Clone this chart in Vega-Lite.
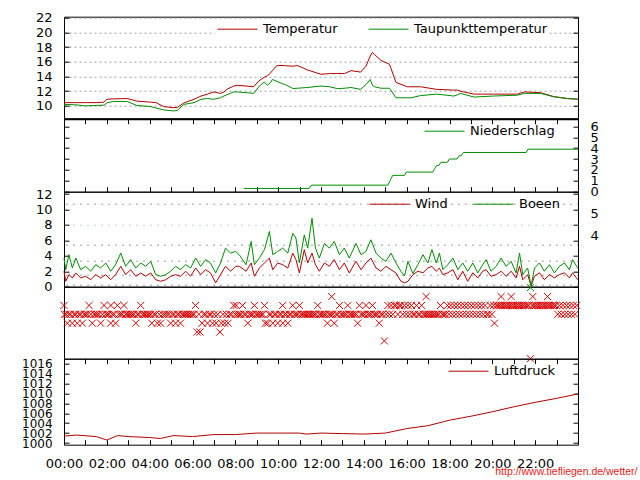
{
  "$schema": "https://vega.github.io/schema/vega-lite/v6.json",
  "background": "white",
  "padding": {"left": 0, "top": 10.7, "right": 0, "bottom": 0},
  "autosize": {"type": "pad"},
  "config": {
    "view": {"stroke": "black", "strokeWidth": 1},
    "font": "DejaVu Sans",
    "axis": {"labelFont": "DejaVu Sans", "labelFontSize": 13, "labelColor": "black", "ticks": false, "domain": false, "grid": false, "labelOverlap": false, "labelFlush": false, "labelPadding": 12},
    "legend": {"labelFont": "DejaVu Sans", "labelFontSize": 13, "labelColor": "black", "symbolType": "stroke", "symbolSize": 1600, "symbolStrokeWidth": 1, "clipHeight": 16, "orient": "none", "direction": "horizontal", "padding": 0, "labelOffset": 5, "labelLimit": 300}
  },
  "title": {"text": "http://www.tiefliegen.de/wetter/", "orient": "bottom", "anchor": "end", "color": "#e82020", "font": "Liberation Sans", "fontSize": 10.5, "fontWeight": "normal", "offset": -4},
  "spacing": 0,
  "bounds": "flush",
  "resolve": {"scale": {"color": "independent"}},
  "vconcat": [
    {
      "width": 514, "height": 102,
      "data": {"name": "temp"},
      "layer": [
        {
          "mark": {"type": "line", "strokeWidth": 1},
          "encoding": {
            "x": {"field": "t", "type": "quantitative", "title": null, "scale": {"domain": [0, 24], "nice": false, "zero": false},
                  "axis": {"orient": "top", "values": [1,2,3,4,5,6,7,8,9,10,11,12,13,14,15,16,17,18,19,20,21,22,23], "labels": false, "grid": true, "gridColor": "black", "gridDash": [5, 92], "domain": true, "domainColor": "black", "minExtent": 0}},
            "y": {"field": "T", "type": "quantitative", "title": null, "scale": {"domain": [8.25, 22.15], "nice": false, "zero": false},
                  "axis": {"orient": "left", "values": [10,12,14,16,18,20,22], "grid": true, "gridColor": "#a0a0a0", "gridDash": [2, 3], "minExtent": 63, "maxExtent": 63}},
            "color": {"datum": "Temperatur", "scale": {"domain": ["Temperatur", "Taupunkttemperatur"], "range": ["#b00000", "#008c00"]},
                      "legend": {"legendX": 151, "legendY": 2.5, "fillColor": "white", "padding": 2, "columnPadding": 30}}
          }
        },
        {
          "mark": {"type": "line", "strokeWidth": 1},
          "encoding": {
            "x": {"field": "t", "type": "quantitative", "title": null, "scale": {"domain": [0, 24], "nice": false, "zero": false}, "axis": null},
            "y": {"field": "D", "type": "quantitative", "title": null, "scale": {"domain": [8.25, 22.15], "nice": false, "zero": false},
                  "axis": {"orient": "right", "values": [10,12,14,16,18,20,22], "labels": false, "grid": true, "gridColor": "black", "gridDash": [5, 504], "minExtent": 59}},
            "color": {"datum": "Taupunkttemperatur"}
          }
        }
      ],
      "resolve": {"axis": {"y": "independent"}}
    },
    {
      "width": 514, "height": 73,
      "data": {"name": "rain"},
      "mark": {"type": "line", "strokeWidth": 1},
      "encoding": {
        "x": {"field": "t", "type": "quantitative", "title": null, "scale": {"domain": [0, 24], "nice": false, "zero": false},
              "axis": {"orient": "top", "values": [1,2,3,4,5,6,7,8,9,10,11,12,13,14,15,16,17,18,19,20,21,22,23], "labels": false, "grid": true, "gridColor": "black", "gridDash": [5, 63], "domain": true, "domainColor": "black", "domainWidth": 2, "minExtent": 0}},
        "y": {"field": "r", "type": "quantitative", "title": null, "scale": {"domain": [0, 6.7], "nice": false, "zero": false},
              "axis": {"orient": "right", "values": [0,1,2,3,4,5,6], "grid": true, "gridColor": "black", "gridDash": [5, 504], "minExtent": 59}},
        "color": {"datum": "Niederschlag", "scale": {"domain": ["Niederschlag"], "range": ["#008c00"]},
                  "legend": {"legendX": 360, "legendY": 4.5}}
      }
    },
    {
      "width": 514, "height": 95,
      "data": {"name": "wind"},
      "layer": [
        {
          "mark": {"type": "line", "strokeWidth": 1},
          "encoding": {
            "x": {"field": "t", "type": "quantitative", "title": null, "scale": {"domain": [0, 24], "nice": false, "zero": false},
                  "axis": {"orient": "top", "values": [1,2,3,4,5,6,7,8,9,10,11,12,13,14,15,16,17,18,19,20,21,22,23], "labels": false, "grid": true, "gridColor": "black", "gridDash": [5, 85], "domain": true, "domainColor": "black", "domainWidth": 2, "minExtent": 0}},
            "y": {"field": "w", "type": "quantitative", "title": null, "scale": {"domain": [0, 12.3], "nice": false, "zero": false},
                  "axis": {"orient": "left", "values": [0,2,4,6,8,10,12], "grid": true, "gridColor": "black", "gridDash": [5, 504], "minExtent": 63, "maxExtent": 63}},
            "color": {"datum": "Wind", "scale": {"domain": ["Wind", "Boeen"], "range": ["#b00000", "#008c00"]},
                      "legend": {"legendX": 305, "legendY": 4.5, "columnPadding": 25}}
          }
        },
        {
          "mark": {"type": "line", "strokeWidth": 1},
          "encoding": {
            "x": {"field": "t", "type": "quantitative", "title": null, "scale": {"domain": [0, 24], "nice": false, "zero": false}, "axis": null},
            "y": {"field": "b", "type": "quantitative", "title": null, "scale": {"domain": [0, 12.3], "nice": false, "zero": false},
                  "axis": {"orient": "right", "values": [0.3, 1.6, 3.4, 5.5, 8, 10.8], "grid": true,
                           "gridColor": {"condition": {"test": "datum.value == 8", "value": "#70b0c8"}, "value": "#404040"},
                           "gridDash": [1, 6], "labelExpr": "datum.value == 8 ? '4' : (datum.value == 10.8 ? '5' : '')", "labelOffset": 10.3, "minExtent": 59}},
            "color": {"datum": "Boeen"}
          }
        }
      ],
      "resolve": {"axis": {"y": "independent"}}
    },
    {
      "width": 514, "height": 72,
      "layer": [
        {
          "data": {"name": "dir"},
          "mark": {"type": "point", "shape": "M-1,-1L1,1M-1,1L1,-1", "filled": false, "size": 50, "strokeWidth": 1, "color": "#d80000", "opacity": 1},
          "encoding": {
            "x": {"field": "t", "type": "quantitative", "title": null, "scale": {"domain": [0, 24], "nice": false, "zero": false},
                  "axis": {"orient": "bottom", "values": [1,2,3,4,5,6,7,8,9,10,11,12,13,14,15,16,17,18,19,20,21,22,23], "labels": false, "grid": true, "gridColor": "black", "gridDash": [5, 62], "minExtent": 0}},
            "y": {"field": "d", "type": "quantitative", "title": null, "scale": {"domain": [0, 365], "nice": false, "zero": false},
                  "axis": {"orient": "right", "values": [0, 90, 180, 270, 360], "grid": true, "gridColor": "black", "gridDash": [5, 504], "minExtent": 59}}
          }
        },
        {
          "data": {"name": "dir2"},
          "mark": {"type": "point", "shape": "M-1,-1L1,1M-1,1L1,-1", "filled": false, "size": 50, "strokeWidth": 1, "color": "#008c00", "opacity": 1},
          "encoding": {
            "x": {"field": "t", "type": "quantitative", "title": null, "scale": {"domain": [0, 24], "nice": false, "zero": false}, "axis": null},
            "y": {"field": "d", "type": "quantitative", "title": null, "scale": {"domain": [0, 365], "nice": false, "zero": false}, "axis": null}
          }
        }
      ]
    },
    {
      "width": 514, "height": 86,
      "data": {"name": "press"},
      "mark": {"type": "line", "strokeWidth": 1},
      "encoding": {
        "x": {"field": "t", "type": "quantitative", "title": null, "scale": {"domain": [0, 24], "nice": false, "zero": false},
              "axis": {"orient": "bottom", "values": [0,1,2,3,4,5,6,7,8,9,10,11,12,13,14,15,16,17,18,19,20,21,22,23], "grid": true, "gridColor": "black", "gridDash": [5, 76],
                       "labelExpr": "datum.value % 2 == 0 ? (datum.value < 10 ? '0' : '') + datum.value + ':00' : ''", "labelPadding": 12.4}},
        "y": {"field": "p", "type": "quantitative", "title": null, "scale": {"domain": [999.66, 1017], "nice": false, "zero": false},
              "axis": {"orient": "left", "values": [1000,1002,1004,1006,1008,1010,1012,1014,1016], "format": "d", "labelFontSize": 12, "grid": true, "gridColor": "black", "gridDash": [5, 504], "minExtent": 63, "maxExtent": 63}},
        "color": {"datum": "Luftdruck", "scale": {"domain": ["Luftdruck"], "range": ["#b00000"]},
                  "legend": {"legendX": 384, "legendY": 4.5}}
      }
    }
  ],
  "datasets": {
    "temp": [
      {"t":0,"T":10.44,"D":10.2},{"t":0.5,"T":10.44,"D":10.15},{"t":1.0,"T":10.44,"D":10.0},{"t":1.5,"T":10.44,"D":10.05},{"t":1.87,"T":10.5,"D":10.1},{"t":2.0,"T":10.9,"D":10.4},{"t":2.3,"T":10.95,"D":10.6},{"t":2.95,"T":11.0,"D":10.6},{"t":3.4,"T":10.65,"D":10.05},{"t":4.05,"T":10.5,"D":9.9},{"t":4.3,"T":10.44,"D":9.7},{"t":4.65,"T":9.9,"D":9.45},{"t":5.13,"T":9.75,"D":9.3},{"t":5.3,"T":9.8,"D":9.4},{"t":5.6,"T":10.4,"D":10.2},{"t":6.07,"T":10.9,"D":10.44},{"t":6.4,"T":11.34,"D":10.9},{"t":6.7,"T":11.6,"D":11.0},{"t":7.0,"T":11.9,"D":10.9},{"t":7.3,"T":11.7,"D":11.1},{"t":7.47,"T":11.9,"D":11.34},{"t":7.6,"T":12.25,"D":11.5},{"t":7.93,"T":12.7,"D":11.9},{"t":8.1,"T":12.8,"D":11.9},{"t":8.5,"T":12.7,"D":11.8},{"t":8.85,"T":12.6,"D":11.7},{"t":9.1,"T":13.4,"D":12.6},{"t":9.2,"T":13.6,"D":12.9},{"t":9.35,"T":13.9,"D":13.25},{"t":9.5,"T":14.1,"D":12.8},{"t":9.65,"T":14.5,"D":13.2},{"t":9.73,"T":14.8,"D":13.6},{"t":9.9,"T":15.4,"D":13.4},{"t":10.0,"T":15.5,"D":13.25},{"t":10.3,"T":15.5,"D":12.9},{"t":10.4,"T":15.45,"D":12.8},{"t":10.7,"T":15.4,"D":12.35},{"t":10.9,"T":15.5,"D":12.4},{"t":11.36,"T":14.9,"D":12.5},{"t":12.0,"T":14.3,"D":12.7},{"t":12.4,"T":14.4,"D":12.6},{"t":12.76,"T":14.4,"D":12.35},{"t":13.1,"T":14.4,"D":12.4},{"t":13.4,"T":14.8,"D":12.5},{"t":13.85,"T":14.6,"D":12.25},{"t":14.1,"T":15.4,"D":12.9},{"t":14.3,"T":16.8,"D":13.6},{"t":14.4,"T":17.3,"D":12.8},{"t":14.5,"T":17.0,"D":12.6},{"t":14.8,"T":16.2,"D":12.4},{"t":15.2,"T":15.66,"D":12.4},{"t":15.5,"T":13.2,"D":11.1},{"t":16.03,"T":12.6,"D":11.1},{"t":16.2,"T":12.6,"D":11.1},{"t":16.65,"T":12.6,"D":11.4},{"t":17.4,"T":12.25,"D":11.6},{"t":18.2,"T":12.15,"D":11.34},{"t":18.37,"T":12.15,"D":11.5},{"t":18.5,"T":12.0,"D":11.7},{"t":19.15,"T":11.6,"D":11.2},{"t":20.06,"T":11.6,"D":11.34},{"t":21.17,"T":11.6,"D":11.45},{"t":21.5,"T":11.9,"D":11.7},{"t":22.25,"T":11.8,"D":11.7},{"t":22.87,"T":11.25,"D":11.25},{"t":23.5,"T":11.0,"D":11.0},{"t":24.0,"T":10.9,"D":10.9}
    ],
    "rain": [
      {"t":8.39,"r":0.3},{"t":11.45,"r":0.3},{"t":11.55,"r":0.6},{"t":15.12,"r":0.6},{"t":15.2,"r":0.9},{"t":15.27,"r":1.2},{"t":15.35,"r":1.5},{"t":15.9,"r":1.5},{"t":15.98,"r":1.8},{"t":17.22,"r":1.8},{"t":17.3,"r":2.1},{"t":17.4,"r":2.4},{"t":17.5,"r":2.4},{"t":17.6,"r":2.7},{"t":17.9,"r":2.7},{"t":18.0,"r":3.0},{"t":18.35,"r":3.0},{"t":18.45,"r":3.3},{"t":18.55,"r":3.3},{"t":18.65,"r":3.6},{"t":21.58,"r":3.6},{"t":21.66,"r":3.9},{"t":24.0,"r":3.9}
    ],
    "wind": [
      {"t":0.0,"w":2.0,"b":3.71},{"t":0.08,"w":0.7,"b":2.2},{"t":0.23,"w":1.56,"b":4.14},{"t":0.39,"w":1.13,"b":2.42},{"t":0.55,"w":1.78,"b":3.71},{"t":0.78,"w":1.13,"b":2.2},{"t":1.01,"w":1.35,"b":2.64},{"t":1.25,"w":0.9,"b":2.0},{"t":1.48,"w":1.56,"b":2.85},{"t":1.71,"w":1.13,"b":2.42},{"t":1.95,"w":1.56,"b":3.07},{"t":2.18,"w":0.9,"b":2.0},{"t":2.41,"w":1.56,"b":2.85},{"t":2.65,"w":2.64,"b":4.35},{"t":2.88,"w":1.56,"b":2.64},{"t":3.11,"w":2.2,"b":3.5},{"t":3.35,"w":1.35,"b":2.42},{"t":3.58,"w":1.78,"b":3.07},{"t":3.81,"w":1.35,"b":2.64},{"t":4.05,"w":1.78,"b":3.28},{"t":4.28,"w":0.9,"b":1.56},{"t":4.51,"w":0.7,"b":1.35},{"t":4.75,"w":0.9,"b":1.56},{"t":4.98,"w":1.35,"b":2.0},{"t":5.21,"w":1.56,"b":2.64},{"t":5.44,"w":1.35,"b":2.2},{"t":5.68,"w":2.0,"b":2.85},{"t":5.91,"w":1.35,"b":2.42},{"t":6.15,"w":2.42,"b":3.71},{"t":6.38,"w":1.56,"b":2.64},{"t":6.61,"w":2.2,"b":3.5},{"t":6.84,"w":1.78,"b":3.07},{"t":7.08,"w":0.5,"b":1.78},{"t":7.31,"w":1.56,"b":3.07},{"t":7.54,"w":2.64,"b":5.0},{"t":7.78,"w":2.0,"b":4.35},{"t":8.01,"w":2.64,"b":4.57},
      {"t":8.19,"w":2.64,"b":4.1},{"t":8.5,"w":2.0,"b":2.85},{"t":8.74,"w":3.07,"b":5.86},{"t":8.89,"w":1.35,"b":2.85},{"t":9.12,"w":2.42,"b":3.7},{"t":9.36,"w":3.07,"b":4.8},{"t":9.59,"w":3.7,"b":7.15},{"t":9.75,"w":2.2,"b":4.14},{"t":9.98,"w":3.07,"b":4.57},{"t":10.21,"w":2.85,"b":5.0},{"t":10.45,"w":2.42,"b":4.35},{"t":10.68,"w":4.35,"b":6.9},{"t":10.83,"w":3.5,"b":6.3},{"t":10.99,"w":1.78,"b":3.07},{"t":11.22,"w":4.78,"b":6.7},{"t":11.38,"w":3.07,"b":5.0},{"t":11.58,"w":4.35,"b":8.86},{"t":11.74,"w":2.85,"b":5.0},{"t":11.92,"w":2.0,"b":3.7},{"t":12.16,"w":3.07,"b":5.6},{"t":12.39,"w":2.64,"b":5.0},{"t":12.62,"w":3.5,"b":5.86},{"t":12.86,"w":2.2,"b":4.14},{"t":13.09,"w":3.07,"b":5.0},{"t":13.32,"w":1.78,"b":3.7},{"t":13.63,"w":3.28,"b":5.6},{"t":13.87,"w":2.2,"b":4.14},{"t":14.1,"w":3.07,"b":4.57},{"t":14.33,"w":3.7,"b":6.07},{"t":14.57,"w":2.42,"b":4.35},{"t":14.8,"w":2.0,"b":3.7},{"t":15.03,"w":2.64,"b":3.28},{"t":15.27,"w":2.2,"b":4.35},{"t":15.5,"w":1.78,"b":3.07},{"t":15.73,"w":0.7,"b":2.0},
      {"t":15.9,"w":0.5,"b":1.4},{"t":16.06,"w":0.7,"b":3.28},{"t":16.29,"w":1.56,"b":1.7},{"t":16.52,"w":2.0,"b":2.85},{"t":16.76,"w":1.8,"b":4.14},{"t":16.99,"w":2.42,"b":3.07},{"t":17.18,"w":2.64,"b":4.8},{"t":17.38,"w":2.0,"b":3.07},{"t":17.53,"w":2.4,"b":4.35},{"t":17.69,"w":1.56,"b":2.2},{"t":17.92,"w":1.8,"b":2.85},{"t":18.16,"w":2.2,"b":3.7},{"t":18.39,"w":0.9,"b":2.2},{"t":18.62,"w":2.0,"b":3.07},{"t":18.85,"w":0.7,"b":2.0},{"t":19.09,"w":1.8,"b":3.07},{"t":19.32,"w":1.13,"b":1.78},{"t":19.55,"w":2.0,"b":2.85},{"t":19.71,"w":2.2,"b":3.5},{"t":19.94,"w":1.35,"b":2.0},{"t":20.18,"w":1.56,"b":2.64},{"t":20.41,"w":2.0,"b":3.71},{"t":20.64,"w":1.35,"b":2.64},{"t":20.88,"w":2.0,"b":3.28},{"t":21.11,"w":1.13,"b":1.78},{"t":21.27,"w":2.64,"b":4.35},{"t":21.42,"w":0.9,"b":1.56},{"t":21.65,"w":1.56,"b":2.42},{"t":21.81,"w":0.1,"b":0.1},{"t":21.97,"w":1.35,"b":2.42},{"t":22.2,"w":1.8,"b":3.07},{"t":22.43,"w":0.9,"b":2.0},{"t":22.67,"w":1.56,"b":2.85},{"t":22.9,"w":1.13,"b":1.78},{"t":23.13,"w":1.56,"b":2.64},{"t":23.37,"w":1.8,"b":3.07},{"t":23.6,"w":1.13,"b":2.2},{"t":23.75,"w":1.8,"b":3.5},{"t":23.99,"w":0.9,"b":2.42}
    ],
    "dir": [
      {"t":0.00,"d":270},{"t":0.02,"d":225},{"t":0.10,"d":225},{"t":0.16,"d":180},{"t":0.23,"d":225},{"t":0.30,"d":225},{"t":0.39,"d":180},{"t":0.47,"d":225},{"t":0.55,"d":225},{"t":0.62,"d":180},{"t":0.70,"d":225},{"t":0.78,"d":225},{"t":0.86,"d":180},{"t":0.94,"d":225},{"t":1.01,"d":225},{"t":1.10,"d":225},{"t":1.17,"d":270},
      {"t":1.25,"d":225},{"t":1.32,"d":180},{"t":1.40,"d":225},{"t":1.48,"d":225},{"t":1.56,"d":225},{"t":1.64,"d":225},{"t":1.71,"d":180},{"t":1.80,"d":225},{"t":1.87,"d":270},{"t":1.95,"d":225},{"t":2.03,"d":225},{"t":2.10,"d":225},{"t":2.18,"d":180},{"t":2.19,"d":270},{"t":2.26,"d":225},{"t":2.34,"d":225},{"t":2.41,"d":180},{"t":2.49,"d":270},{"t":2.56,"d":225},{"t":2.65,"d":225},{"t":2.72,"d":225},{"t":2.80,"d":270},{"t":2.88,"d":225},
      {"t":2.95,"d":225},{"t":3.03,"d":225},{"t":3.11,"d":225},{"t":3.19,"d":225},{"t":3.27,"d":225},{"t":3.35,"d":180},{"t":3.43,"d":225},{"t":3.50,"d":225},{"t":3.58,"d":270},{"t":3.66,"d":225},{"t":3.74,"d":225},{"t":3.81,"d":225},{"t":3.89,"d":225},{"t":3.97,"d":225},{"t":4.05,"d":225},{"t":4.10,"d":180},{"t":4.20,"d":225},{"t":4.28,"d":225},{"t":4.36,"d":180},{"t":4.45,"d":225},{"t":4.51,"d":180},{"t":4.60,"d":225},{"t":4.70,"d":225},{"t":4.80,"d":225},{"t":4.90,"d":225},{"t":4.98,"d":180},{"t":5.06,"d":225},{"t":5.14,"d":225},{"t":5.21,"d":180},{"t":5.30,"d":225},{"t":5.37,"d":225},{"t":5.44,"d":180},
      {"t":5.52,"d":225},{"t":5.60,"d":225},{"t":5.68,"d":225},{"t":5.75,"d":225},{"t":5.83,"d":225},{"t":5.91,"d":225},{"t":6.00,"d":225},{"t":6.07,"d":225},{"t":6.14,"d":270},{"t":6.22,"d":135},{"t":6.30,"d":225},{"t":6.35,"d":135},{"t":6.45,"d":180},{"t":6.53,"d":225},{"t":6.61,"d":225},{"t":6.70,"d":180},{"t":6.78,"d":225},{"t":6.86,"d":225},{"t":6.94,"d":180},{"t":7.02,"d":225},{"t":7.10,"d":180},{"t":7.18,"d":225},{"t":7.28,"d":135},{"t":7.35,"d":180},{"t":7.42,"d":225},{"t":7.50,"d":180},{"t":7.58,"d":225},{"t":7.66,"d":180},{"t":7.74,"d":225},{"t":7.82,"d":225},{"t":7.93,"d":270},{"t":8.00,"d":225},
      {"t":8.04,"d":270},{"t":8.10,"d":225},{"t":8.18,"d":225},{"t":8.26,"d":225},{"t":8.34,"d":270},{"t":8.42,"d":225},{"t":8.50,"d":225},{"t":8.58,"d":180},{"t":8.66,"d":225},{"t":8.74,"d":225},{"t":8.82,"d":225},{"t":8.89,"d":270},{"t":8.97,"d":225},{"t":9.05,"d":225},{"t":9.13,"d":225},{"t":9.21,"d":225},{"t":9.29,"d":225},{"t":9.36,"d":270},{"t":9.40,"d":180},{"t":9.50,"d":180},{"t":9.58,"d":225},{"t":9.66,"d":225},{"t":9.75,"d":180},{"t":9.83,"d":225},{"t":9.90,"d":225},{"t":9.98,"d":180},{"t":10.06,"d":225},{"t":10.14,"d":225},{"t":10.21,"d":270},{"t":10.22,"d":180},{"t":10.30,"d":225},{"t":10.38,"d":225},{"t":10.45,"d":180},{"t":10.53,"d":225},{"t":10.60,"d":225},{"t":10.68,"d":270},{"t":10.76,"d":225},{"t":10.84,"d":225},{"t":10.92,"d":225},{"t":10.99,"d":270},
      {"t":11.07,"d":225},{"t":11.15,"d":225},{"t":11.22,"d":225},{"t":11.30,"d":225},{"t":11.38,"d":225},{"t":11.46,"d":225},{"t":11.53,"d":225},{"t":11.61,"d":225},{"t":11.69,"d":225},{"t":11.77,"d":225},{"t":11.85,"d":270},{"t":11.93,"d":225},{"t":12.00,"d":225},{"t":12.08,"d":225},{"t":12.16,"d":225},{"t":12.24,"d":225},{"t":12.30,"d":180},{"t":12.38,"d":225},{"t":12.46,"d":225},{"t":12.50,"d":315},{"t":12.55,"d":225},{"t":12.62,"d":180},{"t":12.70,"d":225},{"t":12.78,"d":225},{"t":12.86,"d":270},{"t":12.94,"d":225},{"t":13.02,"d":225},{"t":13.10,"d":225},{"t":13.18,"d":225},{"t":13.25,"d":270},{"t":13.33,"d":225},{"t":13.41,"d":225},{"t":13.49,"d":225},{"t":13.57,"d":225},{"t":13.65,"d":225},{"t":13.71,"d":180},{"t":13.79,"d":270},{"t":13.87,"d":225},{"t":13.95,"d":225},
      {"t":14.03,"d":225},{"t":14.10,"d":270},{"t":14.18,"d":225},{"t":14.26,"d":225},{"t":14.34,"d":225},{"t":14.40,"d":270},{"t":14.48,"d":225},{"t":14.56,"d":225},{"t":14.64,"d":225},{"t":14.72,"d":180},{"t":14.80,"d":225},{"t":14.88,"d":225},{"t":14.96,"d":90},{"t":15.04,"d":225},{"t":15.12,"d":270},{"t":15.19,"d":225},{"t":15.27,"d":270},{"t":15.35,"d":225},{"t":15.43,"d":270},{"t":15.51,"d":270},{"t":15.59,"d":225},{"t":15.66,"d":270},{"t":15.74,"d":270},{"t":15.82,"d":225},{"t":15.90,"d":270},{"t":15.98,"d":225},{"t":16.06,"d":270},
      {"t":16.14,"d":225},{"t":16.22,"d":270},{"t":16.30,"d":225},{"t":16.38,"d":225},{"t":16.46,"d":270},{"t":16.54,"d":225},{"t":16.62,"d":225},{"t":16.70,"d":270},{"t":16.78,"d":225},{"t":16.86,"d":225},{"t":16.91,"d":315},{"t":16.94,"d":225},{"t":17.02,"d":225},{"t":17.10,"d":225},{"t":17.18,"d":225},{"t":17.26,"d":225},{"t":17.34,"d":225},{"t":17.42,"d":225},{"t":17.50,"d":225},{"t":17.58,"d":270},{"t":17.66,"d":225},{"t":17.74,"d":225},{"t":17.82,"d":225},{"t":17.90,"d":270},{"t":17.98,"d":225},{"t":18.06,"d":270},{"t":18.14,"d":225},{"t":18.22,"d":270},{"t":18.30,"d":225},{"t":18.38,"d":270},{"t":18.46,"d":225},{"t":18.54,"d":270},{"t":18.62,"d":225},{"t":18.70,"d":270},{"t":18.78,"d":225},{"t":18.86,"d":270},{"t":18.94,"d":225},{"t":19.02,"d":270},{"t":19.10,"d":225},{"t":19.18,"d":270},{"t":19.26,"d":225},{"t":19.34,"d":270},{"t":19.42,"d":225},{"t":19.50,"d":270},{"t":19.58,"d":225},{"t":19.66,"d":270},{"t":19.74,"d":225},{"t":19.82,"d":225},{"t":19.90,"d":270},{"t":19.98,"d":225},{"t":20.06,"d":270},{"t":20.10,"d":180},
      {"t":20.18,"d":270},{"t":20.26,"d":270},{"t":20.34,"d":270},{"t":20.41,"d":315},{"t":20.42,"d":270},{"t":20.50,"d":270},{"t":20.58,"d":270},{"t":20.66,"d":270},{"t":20.74,"d":270},{"t":20.82,"d":270},{"t":20.88,"d":315},{"t":20.90,"d":270},{"t":20.98,"d":270},{"t":21.06,"d":270},{"t":21.14,"d":270},{"t":21.22,"d":270},{"t":21.30,"d":270},{"t":21.38,"d":270},{"t":21.46,"d":270},{"t":21.54,"d":270},{"t":21.62,"d":270},{"t":21.70,"d":270},{"t":21.78,"d":0},{"t":21.86,"d":270},{"t":21.89,"d":315},{"t":21.94,"d":270},{"t":22.02,"d":270},{"t":22.10,"d":270},{"t":22.18,"d":270},{"t":22.26,"d":270},{"t":22.34,"d":270},{"t":22.42,"d":270},{"t":22.50,"d":270},{"t":22.58,"d":315},{"t":22.59,"d":270},{"t":22.66,"d":270},{"t":22.74,"d":270},{"t":22.82,"d":270},{"t":22.90,"d":270},{"t":22.98,"d":270},{"t":23.06,"d":225},{"t":23.14,"d":270},{"t":23.22,"d":225},{"t":23.30,"d":270},{"t":23.38,"d":225},{"t":23.46,"d":270},{"t":23.54,"d":225},{"t":23.62,"d":270},{"t":23.70,"d":225},{"t":23.78,"d":270},{"t":23.86,"d":225},{"t":23.94,"d":270}
    ],
    "dir2": [
      {"t":21.78,"d":360}
    ],
    "press": [
      {"t":0,"p":1001.4},{"t":0.6,"p":1001.6},{"t":1.5,"p":1001.3},{"t":2.0,"p":1000.6},{"t":2.5,"p":1001.5},{"t":3.0,"p":1001.3},{"t":4.0,"p":1001.1},{"t":4.5,"p":1000.9},{"t":5.1,"p":1001.5},{"t":6.0,"p":1001.3},{"t":7.0,"p":1001.7},{"t":8.0,"p":1001.7},{"t":9.0,"p":1002.0},{"t":10.0,"p":1002.0},{"t":11.0,"p":1002.0},{"t":11.3,"p":1001.8},{"t":12.0,"p":1002.0},{"t":13.0,"p":1001.9},{"t":14.0,"p":1001.8},{"t":15.0,"p":1002.0},{"t":16.0,"p":1002.9},{"t":17.0,"p":1003.5},{"t":18.0,"p":1004.6},{"t":19.0,"p":1005.4},{"t":20.0,"p":1006.3},{"t":21.0,"p":1007.3},{"t":22.0,"p":1008.2},{"t":23.0,"p":1009.0},{"t":24.0,"p":1009.9}
    ]
  }
}
